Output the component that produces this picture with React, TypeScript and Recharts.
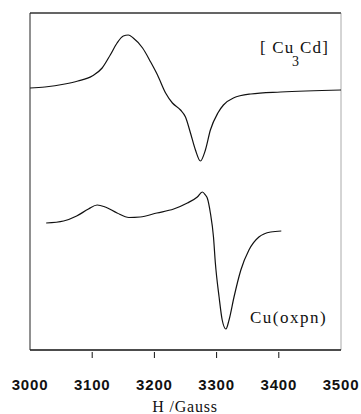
import React from 'react';
import { LineChart, Line, XAxis, YAxis, ReferenceLine } from 'recharts';

// Field positions (Gauss) and signal heights (arb. units)
const cu3cdField = [3000, 3024, 3056, 3077, 3100, 3116, 3129, 3140, 3150, 3158, 3166, 3181, 3194, 3205, 3218, 3229, 3242, 3250, 3258, 3266, 3274, 3282, 3290, 3302, 3311, 3327, 3355, 3403, 3500];
const cu3cdSignal = [262, 263, 266, 269, 274, 282, 295, 307, 314, 315, 312, 302, 288, 275, 257, 247, 240, 233, 217, 200, 189, 200, 220, 237, 245, 252, 256, 258, 260];

const oxpnField = [3026, 3054, 3075, 3094, 3108, 3121, 3140, 3159, 3177, 3204, 3231, 3253, 3269, 3277, 3282, 3285, 3290, 3295, 3298, 3304, 3309, 3315, 3320, 3328, 3339, 3352, 3368, 3387, 3404];
const oxpnSignal = [127, 129, 134, 141, 145, 143, 137, 132.5, 133, 137, 141, 147, 153, 158, 155, 152, 137, 113, 87, 53, 30, 21, 30, 53, 80, 100, 113, 118, 119];

const fieldTicks = [3000, 3100, 3200, 3300, 3400, 3500];

const cu3cdData = cu3cdField.map((g, i) => ({ g, v: cu3cdSignal[i] }));
const oxpnData = oxpnField.map((g, i) => ({ g, v: oxpnSignal[i] }));

const BottomTick = (props: any) => {
  const { x, y, payload } = props;
  const inner = payload.value !== 3000 && payload.value !== 3500;
  return (
    <g>
      {inner && <line x1={x} x2={x} y1={y} y2={y - 6} stroke="#111" strokeWidth={1} />}
      <text
        x={x}
        y={y + 32}
        textAnchor="middle"
        fontFamily="'Liberation Sans', Arial, sans-serif"
        fontWeight="bold"
        fontSize={15}
        letterSpacing={0.8}
        fill="#111"
      >
        {payload.value}
      </text>
    </g>
  );
};

const TopTick = (props: any) => {
  const { x, y, payload } = props;
  if (payload.value === 3000 || payload.value === 3500) return <g />;
  return <line x1={x} x2={x} y1={y} y2={y + 6} stroke="#222" strokeWidth={1} />;
};

const serif = "'Liberation Serif', 'DejaVu Serif', serif";

export default function App() {
  return (
    <div style={{ position: 'relative', width: 361, height: 414, background: '#fff' }}>
      <style>{`body{margin:0;background:#fff}`}</style>
      <LineChart width={361} height={414} margin={{ top: 12, right: 20, bottom: 0, left: 29 }}>
        <XAxis
          xAxisId="h"
          type="number"
          dataKey="g"
          domain={[3000, 3500]}
          ticks={fieldTicks}
          tickLine={false}
          tick={<BottomTick />}
          axisLine={{ stroke: '#111', strokeWidth: 1.3 }}
          height={64}
          interval={0}
        />
        <XAxis
          xAxisId="t"
          orientation="top"
          type="number"
          dataKey="g"
          domain={[3000, 3500]}
          ticks={fieldTicks}
          tickLine={false}
          tick={<TopTick />}
          height={1}
          stroke="#333"
          interval={0}
        />
        <YAxis
          yAxisId="s"
          type="number"
          domain={[0, 337]}
          width={1}
          tick={false}
          tickLine={false}
          stroke="#222"
        />
        <ReferenceLine xAxisId="h" yAxisId="s" y={337} stroke="#333" />
        <ReferenceLine xAxisId="h" yAxisId="s" x={3500} stroke="#aaa" />
        <Line
          xAxisId="h"
          yAxisId="s"
          data={cu3cdData}
          dataKey="v"
          type="monotone"
          stroke="#111"
          strokeWidth={1.2}
          dot={false}
          isAnimationActive={false}
        />
        <Line
          xAxisId="h"
          yAxisId="s"
          data={oxpnData}
          dataKey="v"
          type="monotone"
          stroke="#111"
          strokeWidth={1.2}
          dot={false}
          isAnimationActive={false}
        />
      </LineChart>
      <svg width={361} height={414} style={{ position: 'absolute', left: 0, top: 0, pointerEvents: 'none' }}>
        <text x={260} y={53} fontFamily={serif} fontSize={17} letterSpacing={1.2} fill="#111">[ Cu</text>
        <text x={292} y={66} fontFamily={serif} fontSize={14} fill="#111">3</text>
        <text x={300} y={53} fontFamily={serif} fontSize={17} letterSpacing={1.2} fill="#111">Cd]</text>
        <text x={250} y={323} fontFamily={serif} fontSize={17} letterSpacing={1.5} fill="#111">Cu(oxpn)</text>
        <text x={185} y={412} textAnchor="middle" fontFamily={serif} fontSize={16} letterSpacing={0.8} fill="#111">H /Gauss</text>
      </svg>
    </div>
  );
}
